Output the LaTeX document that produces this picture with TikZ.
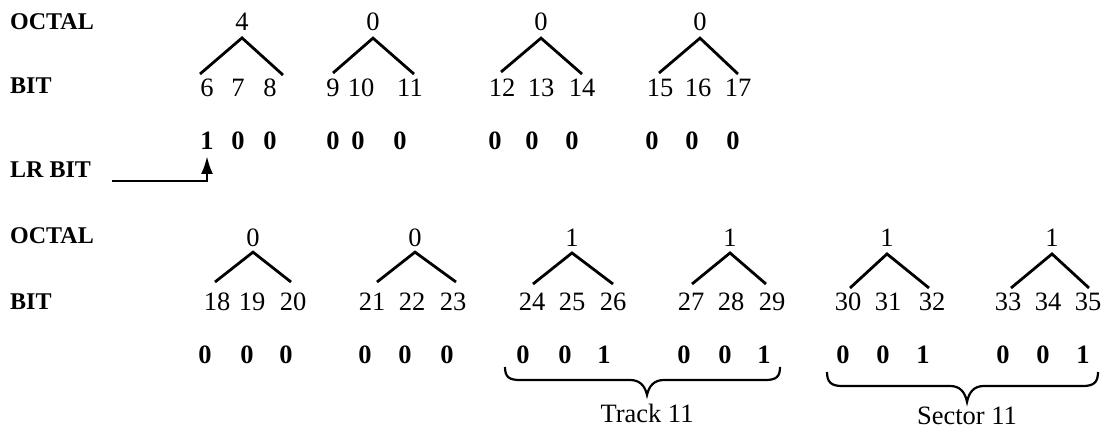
\documentclass[tikz,border=0pt]{standalone}
\usepackage{fontspec}
\setmainfont{Liberation Serif}
\usetikzlibrary{arrows.meta}
\newcommand\labsz{\fontsize{24}{28}\selectfont}
\newcommand\numsz{\fontsize{26.5}{30}\selectfont}
\tikzset{
  lab/.style={font=\labsz\bfseries, anchor=west, inner sep=0pt},
  num/.style={font=\numsz, inner sep=0pt},
  val/.style={font=\numsz\bfseries, inner sep=0pt},
  tree/.style={line width=2.8pt},
  brc/.style={line width=2.2pt},
  arr/.style={line width=2.8pt, -{Latex[length=18pt,width=12pt]}}
}
\begin{document}
\begin{tikzpicture}[x=1pt,y=-1pt]
\useasboundingbox[fill=white] (0,0) rectangle (1107,430);

% labels
\node[lab] (oct1) at (10,22) {OCTAL};
\node[lab] (bit1) at (10,86) {BIT};
\node[lab] (lr)   at (10,170) {LR BIT};
\node[lab] (oct2) at (10,236) {OCTAL};
\node[lab] (bit2) at (10,302) {BIT};

% row 1 trees
\foreach \n/\x/\lx/\ly/\rx/\ry/\d in {
  a/242/200/74/283/75/4, b/373/333/73/414/74/0,
  c/541/501/72/582/74/0, d/700/659/73/738/74/0}{
  \node[num] (o\n) at (\x,22) {\d};
  \coordinate (l\n) at (\lx,\ly);
  \coordinate (r\n) at (\rx,\ry);
  \draw[tree] (l\n) -- ([yshift=-7pt]o\n.south) -- (r\n);
}
% row 2 trees
\foreach \n/\x/\ay/\lx/\ly/\rx/\ry/\d in {
  e/253/5/215/282/291/282/0, f/415/5/377/282/456/282/0,
  g/572/6/533/284/613/284/1, h/730/6/692/284/766/284/1,
  i/887/7/850/288/929/288/1, j/1052/7/1011/288/1089/288/1}{
  \node[num] (o\n) at (\x,238) {\d};
  \coordinate (l\n) at (\lx,\ly);
  \coordinate (r\n) at (\rx,\ry);
  \draw[tree] (l\n) -- ([yshift=-\ay pt]o\n.south) -- (r\n);
}

% bit numbers, row 1
\foreach \t/\x in {6/207,7/238,8/270,9/333,10/361,11/410,
  12/502,13/541,14/582,15/660,16/698,17/738}
  \node[num] (b\t) at (\x,88) {\t};
% bit numbers, row 2
\foreach \t/\x in {18/217,19/252,20/293,21/372,22/412,23/453,
  24/532,25/572,26/613,27/691,28/731,29/772,
  30/848,31/888,32/932,33/1008,34/1048,35/1088}
  \node[num] (b\t) at (\x,302) {\t};

% values, row 1
\foreach \t/\x/\v in {6/207/1,7/238/0,8/270/0,9/333/0,10/358/0,11/400/0,
  12/495/0,13/532/0,14/572/0,15/652/0,16/692/0,17/733/0}
  \node[val] (v\t) at (\x,141) {\v};
% values, row 2
\foreach \t/\x/\v in {18/205/0,19/247/0,20/286/0,21/365/0,22/405/0,23/447/0,
  24/523/0,25/565/0,26/604/1,27/684/0,28/725/0,29/764/1,
  30/843/0,31/883/0,32/923/1,33/1003/0,34/1043/0,35/1083/1}
  \node[val] (v\t) at (\x,355) {\v};

% LR bit arrow
\draw[arr] ([xshift=21pt,yshift=-3pt]lr.south east) -| ([yshift=-6pt]v6.south);

% braces
\draw[brc] (505,367) .. controls (505,377) and (509,380) .. (520,380) -- (630,380)
  .. controls (640,380) and (645,386) .. (647,395)
  .. controls (649,386) and (654,380) .. (664,380) -- (765,380)
  .. controls (776,380) and (780,377) .. (780,367);
\draw[brc] (827,372) .. controls (827,382) and (831,386) .. (842,386) -- (950,386)
  .. controls (960,386) and (965,392) .. (967,402)
  .. controls (969,392) and (974,386) .. (984,386) -- (1083,386)
  .. controls (1094,386) and (1098,382) .. (1098,372);
\node[num] (trk) at (647,413) {Track 11};
\node[num] (sec) at (967,416) {Sector 11};
\end{tikzpicture}
\end{document}
